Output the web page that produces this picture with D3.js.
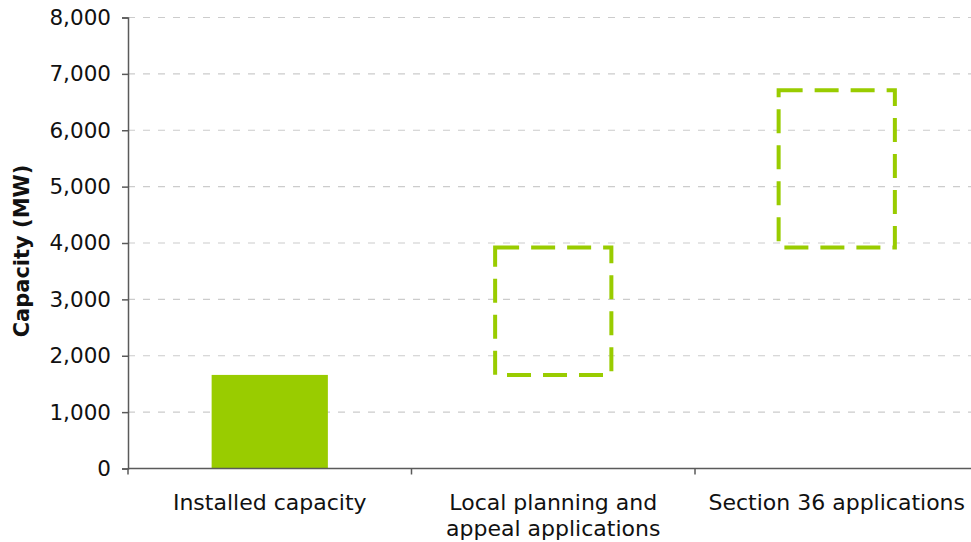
<!DOCTYPE html>
<html>
<head>
<meta charset="utf-8">
<script src="https://cdn.jsdelivr.net/npm/d3@7"></script>
<style>
  html, body { margin: 0; padding: 0; background: #fff; }
  svg { display: block; }
</style>
</head>
<body>
<svg id="chart" width="971" height="542"></svg>
<script>
// Wind capacity: installed vs. pipeline of applications (MW)
const categories = ["Installed capacity", "Local planning and appeal applications", "Section 36 applications"];
const categoryLines = [["Installed capacity"], ["Local planning and", "appeal applications"], ["Section 36 applications"]];
const baseValues = [0, 1660, 3920];   // where each step starts
const topValues = [1660, 3920, 6710]; // where each step ends
const solidFlags = [true, false, false];
const yTicks = [0, 1000, 2000, 3000, 4000, 5000, 6000, 7000, 8000];

const svg = d3.select("#chart");
const green = "#99cc00";
const axisColor = "#5a5a5a";
const tickFont = "DejaVu Sans, Verdana, sans-serif";

const y = d3.scaleLinear().domain([0, 8000]).range([468.5, 17.5]);
const x = d3.scaleBand().domain(categories).range([128, 978.5])
  .paddingInner(0.59).paddingOuter(0.295);

// dashed horizontal gridlines
svg.append("g")
  .selectAll("line")
  .data(yTicks.filter(d => d > 0))
  .join("line")
  .attr("x1", 128).attr("x2", 971)
  .attr("y1", d => y(d)).attr("y2", d => y(d))
  .attr("stroke", "#cccccc").attr("stroke-width", 1.2)
  .attr("stroke-dasharray", "7,8");

// steps
const data = categories.map((c, i) => ({ c, base: baseValues[i], top: topValues[i], solid: solidFlags[i] }));
svg.append("g")
  .selectAll("rect")
  .data(data)
  .join("rect")
  .attr("x", d => x(d.c))
  .attr("width", x.bandwidth())
  .attr("y", d => y(d.top))
  .attr("height", d => y(d.base) - y(d.top))
  .attr("fill", d => d.solid ? green : "none")
  .attr("stroke", d => d.solid ? "none" : green)
  .attr("stroke-width", 4)
  .attr("stroke-dasharray", d => d.solid ? null : "24,12");

// y axis
const yAxis = svg.append("g")
  .attr("transform", "translate(128,0)")
  .call(d3.axisLeft(y).tickValues(yTicks).tickFormat(d3.format(",")).tickSize(6).tickPadding(11));
yAxis.select(".domain").attr("stroke", axisColor).attr("stroke-width", 1.5);
yAxis.selectAll(".tick line").attr("stroke", axisColor).attr("stroke-width", 1.5);
yAxis.selectAll(".tick text")
  .attr("font-family", tickFont).attr("font-size", 21.5).attr("fill", "#111");

// x axis: baseline, boundary ticks, centred labels
const xAxis = svg.append("g").attr("transform", `translate(0,${y(0)})`);
xAxis.append("line")
  .attr("x1", 128).attr("x2", 971)
  .attr("stroke", axisColor).attr("stroke-width", 1.5);
const step = x.step();
const boundaries = categories.map((c, i) => x(categories[0]) - x.paddingOuter() * step + i * step);
xAxis.selectAll("line.tick")
  .data(boundaries)
  .join("line")
  .attr("class", "tick")
  .attr("x1", d => d).attr("x2", d => d)
  .attr("y1", 0).attr("y2", 6)
  .attr("stroke", axisColor).attr("stroke-width", 1.5);

const labels = xAxis.selectAll("text.cat")
  .data(data)
  .join("text")
  .attr("class", "cat")
  .attr("x", d => x(d.c) + x.bandwidth() / 2)
  .attr("y", 41)
  .attr("text-anchor", "middle")
  .attr("font-family", tickFont).attr("font-size", 22).attr("fill", "#111");
labels.each(function (d, i) {
  d3.select(this).selectAll("tspan")
    .data(categoryLines[i])
    .join("tspan")
    .attr("x", x(d.c) + x.bandwidth() / 2)
    .attr("dy", (t, j) => j === 0 ? 0 : 26)
    .text(t => t);
});

// y axis title
svg.append("text")
  .attr("transform", `translate(29,${(y(0) + y(8000)) / 2 + 8}) rotate(-90)`)
  .attr("text-anchor", "middle")
  .attr("font-family", "DejaVu Sans, Verdana, sans-serif")
  .attr("font-weight", "bold")
  .attr("font-size", 21)
  .attr("fill", "#111")
  .text("Capacity (MW)");
</script>
</body>
</html>
